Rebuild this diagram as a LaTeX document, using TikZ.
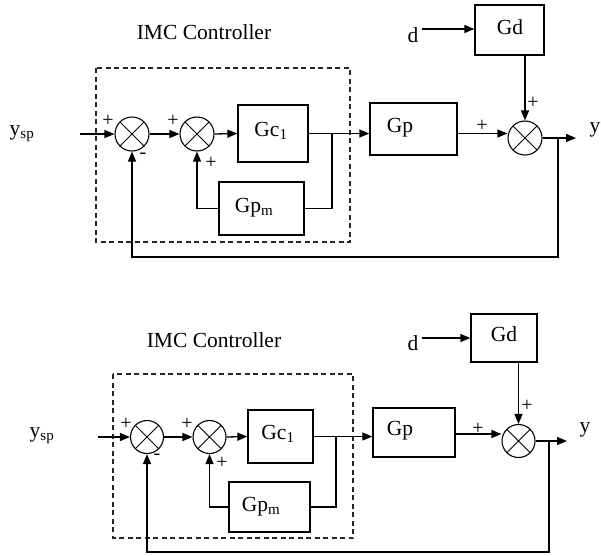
\documentclass[tikz,border=0pt]{standalone}
\usepackage{fontspec}
\setmainfont{Liberation Serif}
\usetikzlibrary{arrows.meta}
\begin{document}
\begin{tikzpicture}[x=1pt,y=-1pt,line width=1.3pt,
  every node/.style={font=\fontsize{21.5}{24}\selectfont, inner sep=0pt},
  blk/.style={draw, rectangle, inner sep=0pt},
  sumj/.style={draw, line width=1.1pt, circle, inner sep=0pt, minimum size=2*#1,
    path picture={\draw[line width=0.9pt] (path picture bounding box.center) +(45:#1) -- +(225:#1)
      (path picture bounding box.center) +(135:#1) -- +(315:#1);}},
  arr/.style={-{Triangle[length=10pt,width=8pt]}},
  dashbox/.style={draw=black!85, line width=1.1pt, dash pattern=on 5pt off 3.5pt},
  sgn/.style={font=\fontsize{20}{22}\selectfont}]
\useasboundingbox (0,0) rectangle (601,555);

% ---------------- top diagram ----------------
\node (t1) at (204,32) {IMC Controller};
\draw[dashbox] (96,68) rectangle (350,242);
\node (ysp1) at (22,134) {y\textsubscript{sp}};
\coordinate (in1) at (80,134);
\node[sumj=17pt] (s11) at (132,134) {};
\node[sumj=17pt] (s12) at (197,134) {};
\node[blk, minimum width=70pt, minimum height=57pt] (gc1) at (273,133.5) {};
\node (gc1t) at (271,131) {Gc\textsubscript{1}};
\node[blk, minimum width=85pt, minimum height=53pt] (gpm1) at (261.5,208.5) {};
\node (gpm1t) at (254,208) {Gp\textsubscript{m}};
\node[blk, minimum width=87pt, minimum height=52pt] (gp1) at (413.5,129) {};
\node (gp1t) at (400,128) {Gp};
\node[sumj=17pt] (s13) at (525,138) {};
\node[blk, minimum width=69pt, minimum height=50pt] (gd1) at (509.5,30) {};
\node (gd1t) at (510,27) {Gd};
\node (d1) at (413,35) {d};
\coordinate (d1s) at (422,29);
\node (y1) at (595,130) {y};
\coordinate (out1) at (576,138);
\coordinate (j1) at (332,133.5);
\coordinate (fb1) at (558,138);
\coordinate (fb1b) at (558,257);

\draw[arr] (in1) -- (s11.west);
\draw[arr] (s11.east) -- (s12.west);
\draw[arr] (s12.east) -- (gc1.west);
\draw[arr] (gc1.east) -- (gc1.east -| gp1.west);
\draw (j1) |- (gpm1.east);
\draw[arr] (gpm1.west) -| (s12.south);
\draw[arr] (gp1.east |- gc1.east) -- (s13.west |- gc1.east);
\draw[arr] (d1s) -- (d1s -| gd1.west);
\draw[arr] (gd1.south -| s13.north) -- (s13.north);
\draw[arr] (s13.east) -- (out1);
\draw[arr] (fb1) -- (fb1b) -| (s11.south);

\node[sgn] (p11) at (108,121) {+};
\node[sgn] (m11) at (143,156) {-};
\node[sgn] (p12) at (173,121) {+};
\node[sgn] (p13) at (211,163) {+};
\node[sgn] (p14) at (482,126) {+};
\node[sgn] (p15) at (533,103) {+};

% ---------------- bottom diagram ----------------
\node (t2) at (214,340) {IMC Controller};
\draw[dashbox] (113,374) rectangle (353,538);
\node (ysp2) at (42,436) {y\textsubscript{sp}};
\coordinate (in2) at (98,437);
\node[sumj=16.5pt] (s21) at (147,437) {};
\node[sumj=16.5pt] (s22) at (209.5,437) {};
\node[blk, minimum width=65pt, minimum height=53pt] (gc2) at (280.5,436.5) {};
\node (gc2t) at (278,434) {Gc\textsubscript{1}};
\node[blk, minimum width=81pt, minimum height=50pt] (gpm2) at (269.5,507) {};
\node (gpm2t) at (261,507) {Gp\textsubscript{m}};
\node[blk, minimum width=82pt, minimum height=49pt] (gp2) at (414,432.5) {};
\node (gp2t) at (400,431) {Gp};
\node[sumj=16.5pt] (s23) at (518.5,441) {};
\node[blk, minimum width=66pt, minimum height=48pt] (gd2) at (504,338) {};
\node (gd2t) at (504,334) {Gd};
\node (d2) at (413,343) {d};
\coordinate (d2s) at (422,338);
\node (y2) at (585,430) {y};
\coordinate (out2) at (567,441);
\coordinate (j2) at (336,436.5);
\coordinate (fb2) at (549,441);
\coordinate (fb2b) at (549,552);

\draw[arr] (in2) -- (s21.west);
\draw[arr] (s21.east) -- (s22.west);
\draw[arr] (s22.east) -- (gc2.west);
\draw[arr] (gc2.east) -- (gc2.east -| gp2.west);
\draw (j2) |- (gpm2.east);
\draw[arr] (gpm2.west) -| (s22.south);
\draw[arr] (gp2.east |- 0,434) -- (s23.west |- 0,434);
\draw[arr] (d2s) -- (d2s -| gd2.west);
\draw[arr] (gd2.south -| s23.north) -- (s23.north);
\draw[arr] (s23.east) -- (out2);
\draw[arr] (fb2) -- (fb2b) -| (s21.south);

\node[sgn] (p21) at (126,424) {+};
\node[sgn] (m21) at (157,457) {-};
\node[sgn] (p22) at (187,424) {+};
\node[sgn] (p23) at (222,463) {+};
\node[sgn] (p24) at (478,429) {+};
\node[sgn] (p25) at (527,406) {+};
\end{tikzpicture}
\end{document}
